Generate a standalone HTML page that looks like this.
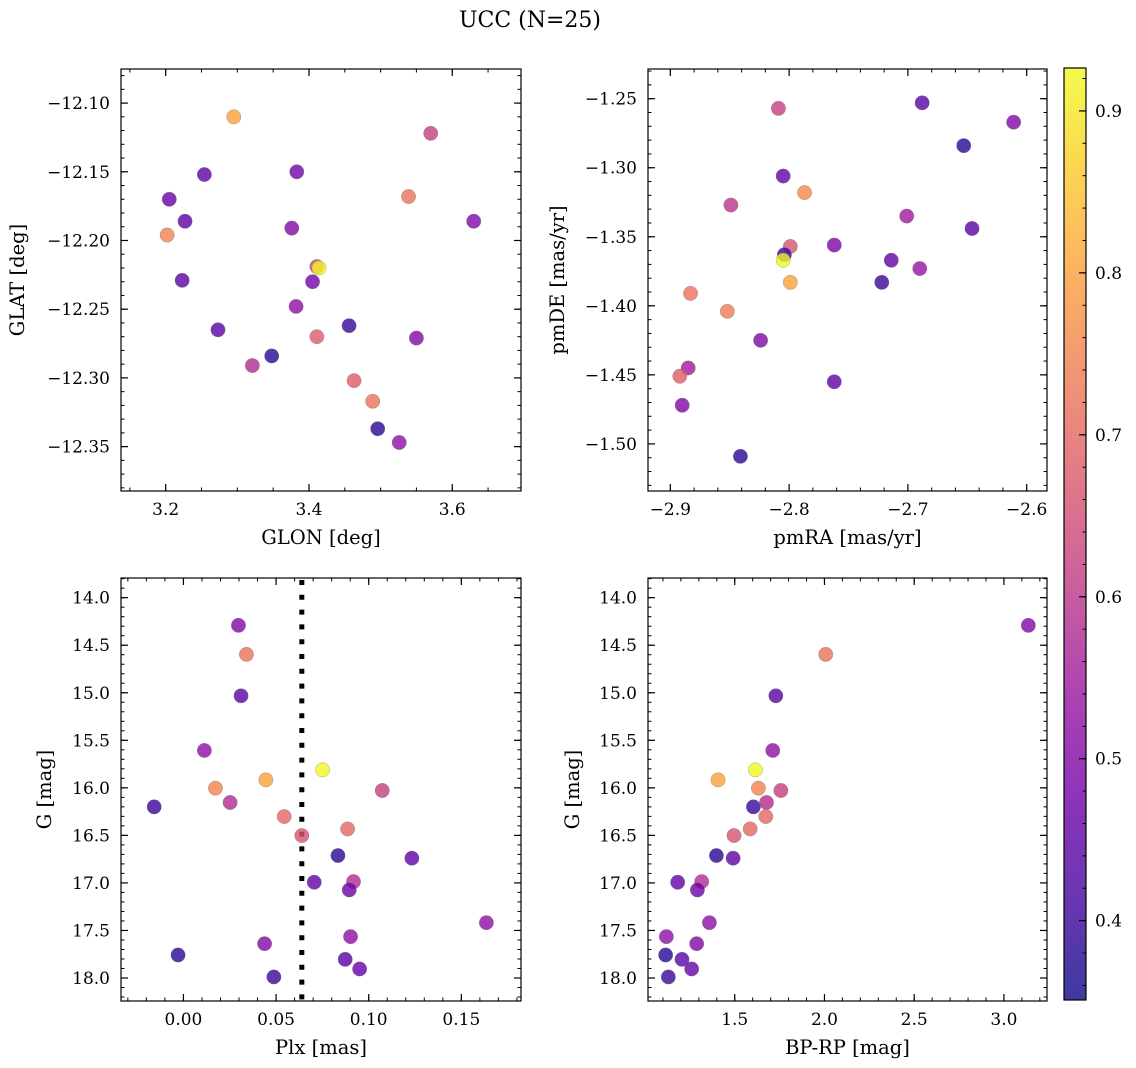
<!DOCTYPE html>
<html><head><meta charset="utf-8">
<style>
html,body{margin:0;padding:0;background:#fff;}
svg{display:block;font-family:"DejaVu Serif","Liberation Serif",serif;}
</style></head>
<body>
<svg id="fig" width="1136" height="1068" viewBox="0 0 1136 1068" xmlns="http://www.w3.org/2000/svg">
<defs>
<linearGradient id="plasma" x1="0" y1="1" x2="0" y2="0">
<stop offset="0" stop-color="#0d0887"/><stop offset="0.1" stop-color="#41049d"/><stop offset="0.2" stop-color="#6a00a8"/><stop offset="0.3" stop-color="#8f0da4"/><stop offset="0.4" stop-color="#b12a90"/><stop offset="0.5" stop-color="#cc4778"/><stop offset="0.6" stop-color="#e16462"/><stop offset="0.7" stop-color="#f2844b"/><stop offset="0.8" stop-color="#fca636"/><stop offset="0.9" stop-color="#fcce25"/><stop offset="1" stop-color="#f0f921"/>
</linearGradient>
</defs>
<text x="530" y="27" font-size="22" text-anchor="middle">UCC (N=25)</text>
</svg>
<script>
// ---- data ----
const glon = [3.295,3.570,3.254,3.383,3.205,3.539,3.227,3.630,3.376,3.202,3.411,3.223,3.405,3.382,3.273,3.456,3.411,3.550,3.348,3.321,3.463,3.489,3.496,3.526,3.414];
const glat = [-12.110,-12.122,-12.152,-12.150,-12.170,-12.168,-12.186,-12.186,-12.191,-12.196,-12.219,-12.229,-12.230,-12.248,-12.265,-12.262,-12.270,-12.271,-12.284,-12.291,-12.302,-12.317,-12.337,-12.347,-12.220];
const cPos = [0.80,0.62,0.45,0.48,0.46,0.72,0.44,0.50,0.50,0.75,0.62,0.44,0.48,0.52,0.44,0.40,0.68,0.50,0.38,0.58,0.68,0.72,0.38,0.52,0.93];

const pmra = [-2.809,-2.688,-2.611,-2.653,-2.805,-2.787,-2.849,-2.701,-2.646,-2.762,-2.799,-2.804,-2.714,-2.690,-2.722,-2.799,-2.883,-2.852,-2.824,-2.885,-2.892,-2.762,-2.890,-2.841,-2.805];
const pmde = [-1.257,-1.253,-1.267,-1.284,-1.306,-1.318,-1.327,-1.335,-1.344,-1.356,-1.357,-1.363,-1.367,-1.373,-1.383,-1.383,-1.391,-1.404,-1.425,-1.445,-1.451,-1.455,-1.472,-1.509,-1.367];
const cPm = [0.62,0.44,0.50,0.38,0.45,0.76,0.60,0.55,0.44,0.49,0.66,0.40,0.45,0.53,0.40,0.80,0.72,0.74,0.50,0.55,0.68,0.45,0.50,0.38,0.93];

const plx = [0.0297,0.0340,0.0311,0.0113,0.0445,0.0173,0.1073,-0.0158,0.0252,0.0544,0.0886,0.0639,0.0834,0.1233,0.0706,0.0918,0.0895,0.1635,0.0902,0.0438,-0.0029,0.0873,0.0951,0.0488,0.0751];
const bprp = [3.136,2.007,1.729,1.712,1.407,1.632,1.757,1.604,1.677,1.673,1.586,1.496,1.398,1.491,1.182,1.316,1.292,1.359,1.119,1.288,1.115,1.206,1.260,1.130,1.615];
const gmag = [14.291,14.596,15.032,15.607,15.916,16.004,16.028,16.200,16.154,16.302,16.432,16.502,16.712,16.740,16.993,16.986,17.074,17.418,17.565,17.639,17.758,17.804,17.905,17.989,15.811];
const cCmd = [0.50,0.72,0.44,0.52,0.80,0.75,0.62,0.40,0.58,0.70,0.70,0.66,0.38,0.45,0.45,0.58,0.47,0.52,0.52,0.50,0.38,0.44,0.46,0.40,0.93];
const plxLine = 0.0639;

const ticksGlon = [3.2,3.4,3.6];
const ticksGlat = [-12.10,-12.15,-12.20,-12.25,-12.30,-12.35];
const ticksPmra = [-2.9,-2.8,-2.7,-2.6];
const ticksPmde = [-1.25,-1.30,-1.35,-1.40,-1.45,-1.50];
const ticksPlx = [0.00,0.05,0.10,0.15];
const ticksBprp = [1.5,2.0,2.5,3.0];
const ticksG = [14.0,14.5,15.0,15.5,16.0,16.5,17.0,17.5,18.0];
const ticksCbar = [0.4,0.5,0.6,0.7,0.8,0.9];

const NS='http://www.w3.org/2000/svg';
const svg=document.getElementById('fig');
const stops=[[0,'#0d0887'],[0.1,'#41049d'],[0.2,'#6a00a8'],[0.3,'#8f0da4'],[0.4,'#b12a90'],[0.5,'#cc4778'],[0.6,'#e16462'],[0.7,'#f2844b'],[0.8,'#fca636'],[0.9,'#fcce25'],[1,'#f0f921']];
const CMIN=0.351,CMAX=0.9265;
function hex(h){return [1,3,5].map(i=>parseInt(h.substr(i,2),16));}
function cmap(v){let t=(v-CMIN)/(CMAX-CMIN);t=Math.max(0,Math.min(1,t));
 for(let i=0;i<stops.length-1;i++){if(t<=stops[i+1][0]){const a=hex(stops[i][1]),b=hex(stops[i+1][1]);const f=(t-stops[i][0])/(stops[i+1][0]-stops[i][0]);return 'rgb('+a.map((x,k)=>Math.round(x+(b[k]-x)*f)).join(',')+')';}}
 return stops[stops.length-1][1];}
function el(tag,attrs,parent){const e=document.createElementNS(NS,tag);for(const k in attrs)e.setAttribute(k,attrs[k]);(parent||svg).appendChild(e);return e;}
function fmt(v,d){const s=Math.abs(v).toFixed(d);return (v<0?'\u2212':'')+s;}
const FS=17, LFS=19.5;

function panel(o){
 const g=el('g',{});
 
 
 const X=v=>o.L+(v-o.x0)/(o.x1-o.x0)*(o.R-o.L);
 const Y=v=>o.T+(v-o.y0)/(o.y1-o.y0)*(o.B-o.T);
 const mx=Math.ceil(Math.min(o.x0,o.x1)/o.xm-1e-9);
 for(let k=mx;k*o.xm<=Math.max(o.x0,o.x1)+1e-9;k++){const x=X(k*o.xm);
  el('line',{x1:x,x2:x,y1:o.B,y2:o.B-3.5,stroke:'#000','stroke-width':1},g);
  el('line',{x1:x,x2:x,y1:o.T,y2:o.T+3.5,stroke:'#000','stroke-width':1},g);}
 const lo=Math.min(o.y0,o.y1),hi=Math.max(o.y0,o.y1);
 for(let k=Math.ceil(lo/o.ym-1e-9);k*o.ym<=hi+1e-9;k++){const y=Y(k*o.ym);
  el('line',{x1:o.L,x2:o.L+3.5,y1:y,y2:y,stroke:'#000','stroke-width':1},g);
  el('line',{x1:o.R,x2:o.R-3.5,y1:y,y2:y,stroke:'#000','stroke-width':1},g);}
 o.xt.forEach(v=>{const x=X(v);
  el('line',{x1:x,x2:x,y1:o.B,y2:o.B-7,stroke:'#000','stroke-width':1.2},g);
  el('line',{x1:x,x2:x,y1:o.T,y2:o.T+7,stroke:'#000','stroke-width':1.2},g);
  const t=el('text',{x:x,y:o.B+24,'font-size':FS,'text-anchor':'middle'},g);t.textContent=fmt(v,o.xd);
  
  });
 o.yt.forEach(v=>{const y=Y(v);
  el('line',{x1:o.L,x2:o.L+7,y1:y,y2:y,stroke:'#000','stroke-width':1.2},g);
  el('line',{x1:o.R,x2:o.R-7,y1:y,y2:y,stroke:'#000','stroke-width':1.2},g);
  const t=el('text',{x:o.L-11,y:y+6,'font-size':FS,'text-anchor':'end'},g);t.textContent=fmt(v,o.yd);
  
  });
 if(o.vline!==undefined){const x=X(o.vline);
  const l=el('line',{x1:x,x2:x,y1:o.T+2,y2:o.B,stroke:'#000','stroke-width':5,'stroke-dasharray':'5 9.8'},g);
  
  }
 o.xs.forEach((v,i)=>{
  const c=el('circle',{cx:X(v),cy:Y(o.ys[i]),r:7.2,fill:cmap(o.cs[i]),'fill-opacity':0.8,stroke:'#777','stroke-width':0.5,'stroke-opacity':0.6},g);
  
  });
 const f=el('rect',{x:o.L,y:o.T,width:o.R-o.L,height:o.B-o.T,fill:'none',stroke:'#000','stroke-width':1.2},g);
 
 
 const xl=el('text',{x:(o.L+o.R)/2,y:o.B+53,'font-size':LFS,'text-anchor':'middle'},g);xl.textContent=o.xl;
 
 
 const yl=el('text',{x:0,y:0,'font-size':LFS,'text-anchor':'middle',transform:`translate(${o.ylx},${(o.T+o.B)/2}) rotate(-90)`},g);yl.textContent=o.yl;
 
 
}
panel({name:'glon-glat-panel',L:121,R:521,T:69,B:491,x0:3.1376,x1:3.696,y0:-12.0752,y1:-12.3823,xm:0.05,ym:0.01,xt:ticksGlon,yt:ticksGlat,xd:1,yd:2,xs:glon,ys:glat,cs:cPos,xl:'GLON [deg]',yl:'GLAT [deg]',ylx:24});
panel({name:'proper-motion-panel',L:648,R:1047,T:69,B:491,x0:-2.9188,x1:-2.5829,y0:-1.2285,y1:-1.5341,xm:0.02,ym:0.01,xt:ticksPmra,yt:ticksPmde,xd:1,yd:2,xs:pmra,ys:pmde,cs:cPm,xl:'pmRA [mas/yr]',yl:'pmDE [mas/yr]',ylx:564});
panel({name:'plx-g-panel',L:121,R:521,T:578,B:1001,x0:-0.0337,x1:0.1822,y0:13.793,y1:18.242,xm:0.01,ym:0.1,xt:ticksPlx,yt:ticksG,xd:2,yd:1,xs:plx,ys:gmag,cs:cCmd,xl:'Plx [mas]',yl:'G [mag]',ylx:51,vline:plxLine});
panel({name:'cmd-panel',L:648,R:1047,T:578,B:1001,x0:1.0167,x1:3.240,y0:13.793,y1:18.242,xm:0.1,ym:0.1,xt:ticksBprp,yt:ticksG,xd:1,yd:1,xs:bprp,ys:gmag,cs:cCmd,xl:'BP-RP [mag]',yl:'G [mag]',ylx:579});

// colorbar
const cb=el('g',{});


const CT=68,CB=1000,CL=1064,CR=1086;
el('rect',{x:CL,y:CT,width:CR-CL,height:CB-CT,fill:'url(#plasma)','fill-opacity':0.8,stroke:'none'},cb);
el('rect',{x:CL,y:CT,width:CR-CL,height:CB-CT,fill:'none',stroke:'#000','stroke-width':1.2},cb);
const CY=v=>CB-(v-CMIN)/(CMAX-CMIN)*(CB-CT);
for(let k=Math.ceil(CMIN/0.02);k*0.02<=CMAX;k++){const y=CY(k*0.02);el('line',{x1:CR,x2:CR-3.5,y1:y,y2:y,stroke:'#000','stroke-width':1},cb);}
ticksCbar.forEach(v=>{const y=CY(v);
 el('line',{x1:CR,x2:CR-7,y1:y,y2:y,stroke:'#000','stroke-width':1.2},cb);
 const t=el('text',{x:CR+9,y:y+6,'font-size':FS},cb);t.textContent=v.toFixed(1);
 
 });
</script>
</body></html>
